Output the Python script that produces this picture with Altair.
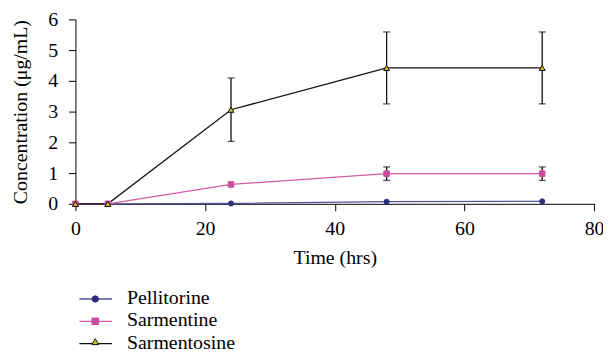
import altair as alt
import pandas as pd

# ---- data ----
times = [0, 5, 24, 48, 72]
series_names = ["Pellitorine", "Sarmentine", "Sarmentosine"]
pellitorine = [0.0, 0.0, 0.01, 0.07, 0.08]
pellitorine_err = [0.0, 0.0, 0.0, 0.0, 0.0]
sarmentine = [0.0, 0.0, 0.63, 0.98, 0.98]
sarmentine_err = [0.0, 0.0, 0.0, 0.22, 0.22]
sarmentosine = [0.0, 0.0, 3.06, 4.42, 4.42]
sarmentosine_err = [0.0, 0.0, 1.03, 1.17, 1.17]

x_ticks = [0, 20, 40, 60, 80]
y_ticks = [0, 1, 2, 3, 4, 5, 6]

line_colors = ["#4f529c", "#d45ba3", "#111111"]
marker_fill = ["#2c2e7a", "#cc4c99", "#c9c41e"]
marker_stroke = ["#2c2e7a", "#cc4c99", "#111111"]
marker_shapes = ["circle", "square", "triangle-up"]
marker_sizes = [26, 36, 42]
legend_marker_sizes = [40, 48, 56]

rows = []
for name, vals, errs in [
    ("Pellitorine", pellitorine, pellitorine_err),
    ("Sarmentine", sarmentine, sarmentine_err),
    ("Sarmentosine", sarmentosine, sarmentosine_err),
]:
    for t, v, e in zip(times, vals, errs):
        rows.append({"time": t, "series": name, "value": v, "err": e})
df = pd.DataFrame(rows)
leg_df = pd.DataFrame({"series": series_names})

FONT = "Liberation Serif"
FS = 20

x_scale = alt.Scale(domain=[0, 80], nice=False, padding=0)
x_axis = alt.Axis(values=x_ticks, title="Time (hrs)", labelPadding=8, titlePadding=9, labelFlush=False)
y_scale = alt.Scale(domain=[0, 6], nice=False, padding=0)
y_axis = alt.Axis(values=y_ticks, title="Concentration (\u03bcg/mL)", labelPadding=11, titlePadding=17, labelFlush=False)

def X(field="time:Q"):
    return alt.X(field, scale=x_scale, axis=x_axis)

def Y(field):
    return alt.Y(field, scale=y_scale, axis=y_axis)

color_scale = alt.Scale(domain=series_names, range=line_colors)
shape_scale = alt.Scale(domain=series_names, range=marker_shapes)
fill_scale = alt.Scale(domain=series_names, range=marker_fill)
stroke_scale = alt.Scale(domain=series_names, range=marker_stroke)
size_scale = alt.Scale(domain=series_names, range=marker_sizes)

base = alt.Chart(df)

lines = base.mark_line(strokeWidth=1.3, clip=False).encode(
    x=X(), y=Y("value:Q"),
    color=alt.Color("series:N", scale=color_scale, legend=None),
)

err_data = base.transform_filter("datum.err > 0").transform_calculate(
    lo="datum.value - datum.err", hi="datum.value + datum.err"
)
err_rule = err_data.mark_rule(color="#111111", strokeWidth=1.3).encode(
    x=X(), y=Y("lo:Q"), y2="hi:Q"
)
cap_lo = err_data.mark_tick(color="#111111", orient="horizontal", size=7, thickness=1.3).encode(
    x=X(), y=Y("lo:Q")
)
cap_hi = err_data.mark_tick(color="#111111", orient="horizontal", size=7, thickness=1.3).encode(
    x=X(), y=Y("hi:Q")
)

def marker_enc(sizes_scale):
    return dict(
        shape=alt.Shape("series:N", scale=shape_scale, legend=None),
        fill=alt.Fill("series:N", scale=fill_scale, legend=None),
        stroke=alt.Stroke("series:N", scale=stroke_scale, legend=None),
        size=alt.Size("series:N", scale=sizes_scale, legend=None),
    )

points = base.mark_point(filled=True, opacity=1, strokeWidth=1, clip=False).encode(
    x=X(), y=Y("value:Q"), **marker_enc(size_scale)
)

main = alt.layer(lines, err_rule, cap_lo, cap_hi, points)

# ---- legend drawn below the plot, rows placed by a point scale ----
leg_size_scale = alt.Scale(domain=series_names, range=legend_marker_sizes)
leg_y = alt.Y("series:N", scale=alt.Scale(type="point", domain=series_names, range=[282, 327], padding=0), axis=None)
leg_base = alt.Chart(leg_df)
leg_lines = leg_base.mark_rule(strokeWidth=1.3).encode(
    x=alt.value(4), x2=alt.value(37), y=leg_y,
    color=alt.Color("series:N", scale=color_scale, legend=None),
)
leg_pts = leg_base.mark_point(filled=True, opacity=1, strokeWidth=1).encode(
    x=alt.value(20), y=leg_y, **marker_enc(leg_size_scale)
).transform_filter("datum.series != 'Sarmentosine'")
leg_tri = leg_base.mark_point(filled=True, opacity=1, strokeWidth=1, yOffset=-2).encode(
    x=alt.value(20), y=leg_y, **marker_enc(leg_size_scale)
).transform_filter("datum.series == 'Sarmentosine'")
leg_text = leg_base.mark_text(align="left", baseline="middle", font=FONT, fontSize=FS, color="black", dy=-1).encode(
    x=alt.value(52), y=leg_y, text="series:N"
)
legend = alt.layer(leg_lines, leg_pts, leg_tri, leg_text).resolve_scale(size="independent")

chart = alt.layer(main, legend).resolve_scale(y="independent", size="independent").properties(
    width=523, height=186,
    autosize=alt.AutoSizeParams(type="none"),
    padding={"left": 68, "top": 10, "right": 9, "bottom": 150},
    background="white",
).configure_view(stroke=None).configure_axis(
    grid=False, tickSize=7, domainColor="black", tickColor="black", domainWidth=1, tickWidth=1,
    labelColor="black", titleColor="black", labelFont=FONT, titleFont=FONT,
    labelFontSize=FS, titleFontSize=FS, titleFontWeight="normal",
)

chart.save("out.html", embed_options={"renderer": "svg", "actions": False})
